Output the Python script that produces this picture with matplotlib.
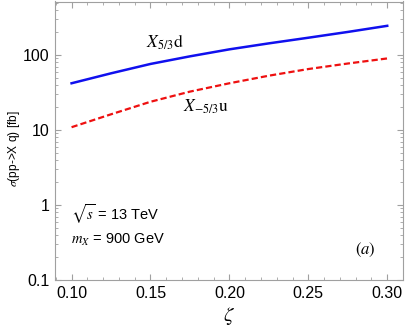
import matplotlib.pyplot as plt
import numpy as np

plt.rcParams['mathtext.fontset'] = 'stix'
plt.rcParams['font.family'] = 'Liberation Sans'

# Data
zeta = [0.10, 0.125, 0.15, 0.175, 0.20, 0.225, 0.25, 0.275, 0.30]
sigma_d = [42, 57, 76, 96, 119, 143, 170, 203, 245]
sigma_u = [10.9, 16.2, 23.8, 32.5, 42, 53, 65, 77, 90]

fig = plt.figure(figsize=(4.09, 3.29), dpi=100)
ax = fig.add_axes([55 / 409, 49 / 329, 348 / 409, 278.5 / 329])

ax.plot(zeta, sigma_d, color='#1010ee', lw=1.8)
ax.plot(zeta, sigma_u, color='#ee1010', lw=1.6, ls=(0, (2.8, 1.4)))

ax.set_yscale('log')
ax.set_xlim(0.0895, 0.3095)
ax.set_ylim(0.1, 517)
ax.set_yticks([0.1, 1, 10, 100])
ax.set_yticklabels(['0.1', '1', '10', '100'])
ax.set_xticks([0.10, 0.15, 0.20, 0.25, 0.30])
ax.set_xticklabels(['0.10', '0.15', '0.20', '0.25', '0.30'])
ax.set_xticks(np.arange(0.09, 0.311, 0.01), minor=True)

for s in ax.spines.values():
    s.set_color('#a0a0a0')
ax.tick_params(which='both', direction='in', color='#a0a0a0', top=True, right=True)
ax.tick_params(which='major', length=4, labelsize=11.5, pad=4)
ax.tick_params(which='minor', length=2)

fig.text(14 / 409, 1 - 149 / 329, r'$\sigma$(pp->X q) [fb]', fontsize=8.6,
         rotation=90, ha='center', va='center')
ax.set_xlabel(r'$\zeta$', fontsize=15, labelpad=3)

ax.text(0.159, 125, r'$X_{5/3}\mathrm{d}$', fontsize=12.5, ha='center')
ax.text(0.185, 17.5, r'$X_{-5/3}\mathrm{u}$', fontsize=12.5, ha='center')
ax.text(0.0995, 0.62, r'$\sqrt{s}$ = 13 TeV', fontsize=10.5)
ax.text(0.0995, 0.3, r'$m_X$ = 900 GeV', fontsize=10.5)
ax.text(0.286, 0.22, r'$(a)$', fontsize=12, ha='center')

plt.savefig('out.png', dpi=100)
